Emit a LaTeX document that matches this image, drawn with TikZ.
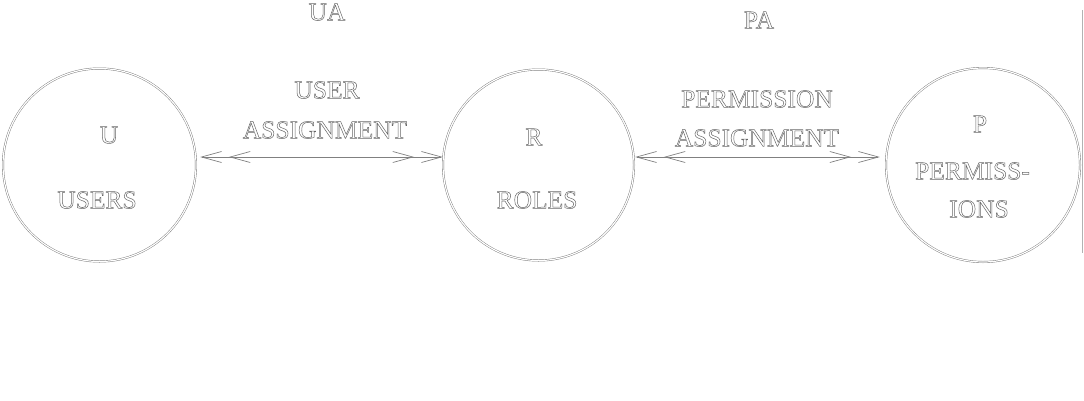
\documentclass[tikz,border=0pt]{standalone}
\usepackage{fontspec}
\setmainfont{Liberation Serif}
\usetikzlibrary{arrows.meta}
\newcommand\outlinetext{\special{pdf:literal direct 1 Tr 0.5 w}}
\begin{document}
\begin{tikzpicture}[x=1pt,y=-1pt,
  lbl/.style={inner sep=0pt, text=black!60, font=\fontsize{25.5}{30}\selectfont\outlinetext},
  ring/.style={circle, draw=black!55, line width=0.4pt, double=white, double distance=1.2pt, inner sep=0pt},
  arr/.style={draw=black!50, line width=0.7pt, shorten <=-7pt, shorten >=-7pt, {Straight Barb[length=20pt,width=11pt,sep=7pt] Straight Barb[length=20pt,width=11pt,sep=7pt]}-{Straight Barb[length=20pt,width=11pt,sep=7pt] Straight Barb[length=20pt,width=11pt,sep=7pt]}},
  edge/.style={draw=black!30, line width=1pt}]
\useasboundingbox (0,0) rectangle (1084,400);
% circles
\node[ring, minimum size=193pt] (U) at (99.5,165) {};
\node[ring, minimum size=191pt] (R) at (538.5,165) {};
\node[ring, minimum size=194pt] (P) at (983,165) {};
% labels inside circles
\node[lbl] (u1) at (109,135) {U};
\node[lbl] (u2) at (97,200) {USERS};
\node[lbl] (r1) at (534,137) {R};
\node[lbl] (r2) at (537,200) {ROLES};
\node[lbl] (p1) at (980,124) {P};
\node[lbl] (p2) at (972.5,171) {PERMISS-};
\node[lbl] (p3) at (979,209) {IONS};
% relation labels
\node[lbl] (ua) at (327,12) {UA};
\node[lbl] (ua1) at (327,90) {USER};
\node[lbl] (ua2) at (325,130) {ASSIGNMENT};
\node[lbl] (pa) at (759,20) {PA};
\node[lbl] (pa1) at (757,99) {PERMISSION};
\node[lbl] (pa2) at (757,138) {ASSIGNMENT};
% connectors
\draw[arr] ([xshift=4pt,yshift=8pt]U.east) -- ([yshift=8pt]R.west);
\draw[arr] ([xshift=1pt,yshift=8pt]R.east) -- ([xshift=-6pt,yshift=8pt]P.west);
% right edge line
\coordinate (e1) at (1082.5,10);
\coordinate (e2) at (1082.5,253);
\draw[edge] (e1) -- (e2);
\end{tikzpicture}
\end{document}
